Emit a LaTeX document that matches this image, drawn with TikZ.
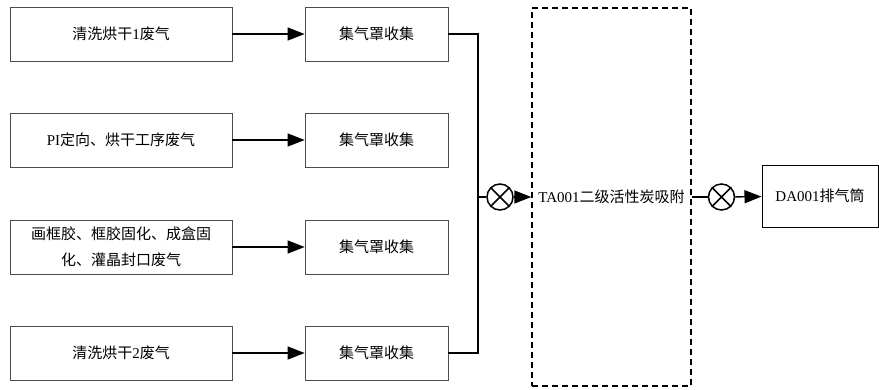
\documentclass[tikz,border=0pt]{standalone}
\usepackage{fontspec}
\setmainfont{Liberation Serif}
\newfontfamily\cjk{Noto Sans CJK SC}
\usetikzlibrary{arrows.meta}
\begin{document}
\begin{tikzpicture}[x=1pt,y=-1pt,
  srcbox/.style={draw=black!70, line width=0.8pt, minimum width=222pt, minimum height=54pt, inner sep=0pt, font=\fontsize{15}{26}\selectfont, align=center},
  colbox/.style={draw=black!70, line width=0.8pt, minimum width=143pt, minimum height=54pt, inner sep=0pt, font=\fontsize{15}{26}\selectfont},
  conn/.style={line width=1.4pt},
  arr/.style={line width=1.4pt, -{Triangle[length=17pt,width=13pt]}},
  valve/.style={circle, draw, line width=1.5pt, minimum size=26pt, inner sep=0pt}]
\useasboundingbox (0,0) rectangle (879,389);
% source boxes
\node[srcbox] (s1) at (121,34) {{\cjk 清洗烘干}1{\cjk 废气}};
\node[srcbox] (s2) at (121,140) {PI{\cjk 定向、烘干工序废气}};
\node[srcbox] (s3) at (121,247) {{\cjk 画框胶、框胶固化、成盒固}\\{\cjk 化、灌晶封口废气}};
\node[srcbox] (s4) at (121,353) {{\cjk 清洗烘干}2{\cjk 废气}};
% collection boxes
\node[colbox] (h1) at (376.5,34) {\cjk 集气罩收集};
\node[colbox] (h2) at (376.5,140) {\cjk 集气罩收集};
\node[colbox] (h3) at (376.5,247) {\cjk 集气罩收集};
\node[colbox] (h4) at (376.5,353) {\cjk 集气罩收集};
\foreach \i in {1,2,3,4} {\draw[arr] (s\i) -- (h\i);}
% collector
\coordinate (t1) at (478,34);
\coordinate (t4) at (478,353);
\coordinate (j) at (478,197);
\draw[conn] (h1.east) -- (t1) -- (t4) -- (h4.east);
% valve 1
\node[valve] (c1) at (500,197) {};
\draw[line width=1.5pt] (c1.45) -- (c1.225) (c1.135) -- (c1.-45);
\draw[conn] (j) -- (c1);
% adsorption
\node[draw, line width=1.4pt, dash pattern=on 6pt off 4pt, minimum width=159pt, minimum height=378pt, inner sep=0pt, font=\fontsize{15}{26}\selectfont] (ta) at (611.5,197) {TA001{\cjk 二级活性炭吸附}};
\draw[arr] (c1) -- (ta);
% valve 2
\node[valve] (c2) at (721.5,197) {};
\draw[line width=1.5pt] (c2.45) -- (c2.225) (c2.135) -- (c2.-45);
\draw[conn] (ta) -- (c2);
% stack
\node[draw=black, line width=1pt, minimum width=116pt, minimum height=62pt, inner sep=0pt, font=\fontsize{15}{26}\selectfont] (da) at (820,196) {DA001{\cjk 排气筒}};
\draw[arr] (c2) -- (da);
\end{tikzpicture}
\end{document}
